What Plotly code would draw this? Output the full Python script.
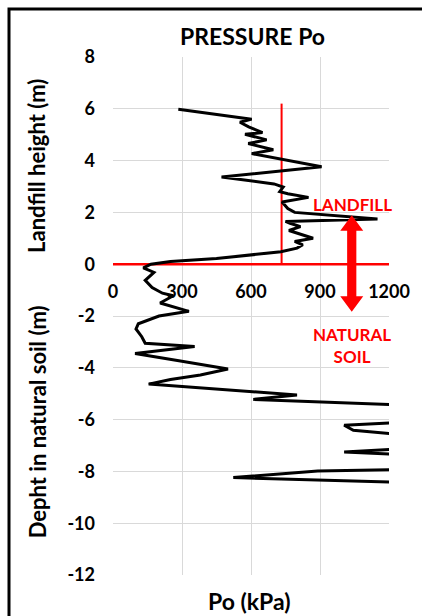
import plotly.graph_objects as go

# Pressure Po (kPa) versus elevation (m); positive = landfill, negative = natural soil
pressure_kpa = [284, 603, 552, 590, 650, 574, 668, 588, 697, 603, 907, 472,
                700, 740, 725, 760, 850, 735, 760, 790, 1150, 750, 770, 815,
                765, 870, 790, 825, 800, 730, 450, 250, 165,
                132, 178, 140, 170, 215, 262, 205, 330, 200, 110, 100, 125,
                140, 355, 96, 280, 500, 380, 250, 155, 800, 610, 1210, 1600,
                1210, 1005, 1045, 1210, 1500, 1210, 1005, 1210, 1500, 1210,
                890, 523, 1210, 1500]
elevation_m = [5.98, 5.60, 5.48, 5.30, 5.08, 5.02, 4.80, 4.66, 4.42, 4.27, 3.76, 3.37,
               3.10, 2.98, 2.80, 2.72, 2.58, 2.40, 2.15, 2.00, 1.75, 1.65, 1.58, 1.45,
               1.30, 1.00, 0.88, 0.75, 0.62, 0.48, 0.22, 0.10, 0.00,
               -0.14, -0.32, -0.62, -0.90, -1.12, -1.22, -1.50, -1.82, -2.00, -2.30, -2.50, -2.80,
               -3.05, -3.18, -3.45, -3.72, -4.05, -4.28, -4.45, -4.63, -5.05, -5.22, -5.42, -5.80,
               -6.13, -6.22, -6.41, -6.54, -6.90, -7.15, -7.25, -7.33, -7.60, -7.93,
               -7.98, -8.24, -8.41, -8.60]

x_ticks = [0, 300, 600, 900, 1200]
y_ticks = [-12, -10, -8, -6, -4, -2, 0, 2, 4, 6, 8]

limit_pressure = 733      # red vertical line
limit_top = 6.2
arrow_x = 1038
arrow_top = 1.89
arrow_bottom = -1.84

RED = "#ff0000"
FONT = "Lato"

fig = go.Figure()
fig.add_trace(go.Scatter(x=pressure_kpa, y=elevation_m, mode="lines",
                         line=dict(color="black", width=3), showlegend=False,
                         hoverinfo="skip"))

hw, HW, hh = 20, 50, 0.6
arrow_path = (f"M {arrow_x-hw},{arrow_top-hh} L {arrow_x-HW},{arrow_top-hh} L {arrow_x},{arrow_top} "
              f"L {arrow_x+HW},{arrow_top-hh} L {arrow_x+hw},{arrow_top-hh} L {arrow_x+hw},{arrow_bottom+hh} "
              f"L {arrow_x+HW},{arrow_bottom+hh} L {arrow_x},{arrow_bottom} L {arrow_x-HW},{arrow_bottom+hh} "
              f"L {arrow_x-hw},{arrow_bottom+hh} Z")

shapes = [
    dict(type="line", xref="x", yref="y", x0=0, x1=1200, y0=0, y1=0,
         line=dict(color=RED, width=2.5), layer="between"),
    dict(type="line", xref="x", yref="y", x0=limit_pressure, x1=limit_pressure, y0=0, y1=limit_top,
         line=dict(color=RED, width=2), layer="between"),
    dict(type="path", xref="x", yref="y", path=arrow_path, fillcolor=RED,
         line=dict(color=RED, width=0), layer="above"),
    dict(type="rect", xref="paper", yref="paper", x0=-0.3768, x1=1.16, y0=-0.09, y1=1.0927,
         line=dict(color="black", width=3), fillcolor="rgba(0,0,0,0)"),
]

annotations = [
    dict(text="<b>PRESSURE Po</b>", xref="paper", yref="paper", x=0.504, y=1.04,
         showarrow=False, font=dict(family=FONT, size=23, color="black"),
         xanchor="center", yanchor="middle"),
    dict(text="<b>Landfill height (m)</b>", xref="paper", yref="y", x=-0.275, y=3.8,
         textangle=-90, showarrow=False, font=dict(family=FONT, size=22, color="black"),
         xanchor="center", yanchor="middle"),
    dict(text="<b>Depht in natural soil (m)</b>", xref="paper", yref="y", x=-0.275, y=-6.1,
         textangle=-90, showarrow=False, font=dict(family=FONT, size=22, color="black"),
         xanchor="center", yanchor="middle"),
    dict(text="<b>Po (kPa)</b>", xref="paper", yref="paper", x=0.493, y=-0.050,
         showarrow=False, font=dict(family=FONT, size=23, color="black"),
         xanchor="center", yanchor="middle"),
    dict(text="<b>LANDFILL</b>", xref="x", yref="y", x=1040, y=2.32,
         showarrow=False, font=dict(family=FONT, size=17, color=RED),
         xanchor="center", yanchor="middle"),
    dict(text="<b>NATURAL<br>SOIL</b>", xref="x", yref="y", x=1040, y=-3.13,
         showarrow=False, font=dict(family=FONT, size=17, color=RED),
         xanchor="center", yanchor="middle"),
]

fig.update_layout(
    width=422, height=616,
    margin=dict(l=113, r=33, t=57, b=41),
    paper_bgcolor="white", plot_bgcolor="white",
    shapes=shapes, annotations=annotations,
    xaxis=dict(range=[0, 1200], tickvals=x_ticks, ticktext=[str(v) for v in x_ticks],
               showgrid=True, gridcolor="#d9d9d9", gridwidth=1, zeroline=False,
               showline=False, anchor="free", position=0.6, side="bottom",
               ticks="", ticklabelstandoff=15,
               tickfont=dict(family=FONT, size=18, color="black", weight="bold")),
    yaxis=dict(range=[-12, 8], tickvals=y_ticks, ticktext=[str(v) for v in y_ticks],
               showgrid=True, gridcolor="#d9d9d9", gridwidth=1, zeroline=False,
               showline=False, ticks="", ticklabelstandoff=17,
               tickfont=dict(family=FONT, size=18, color="black", weight="bold")),
)
fig.write_html("out.html")
